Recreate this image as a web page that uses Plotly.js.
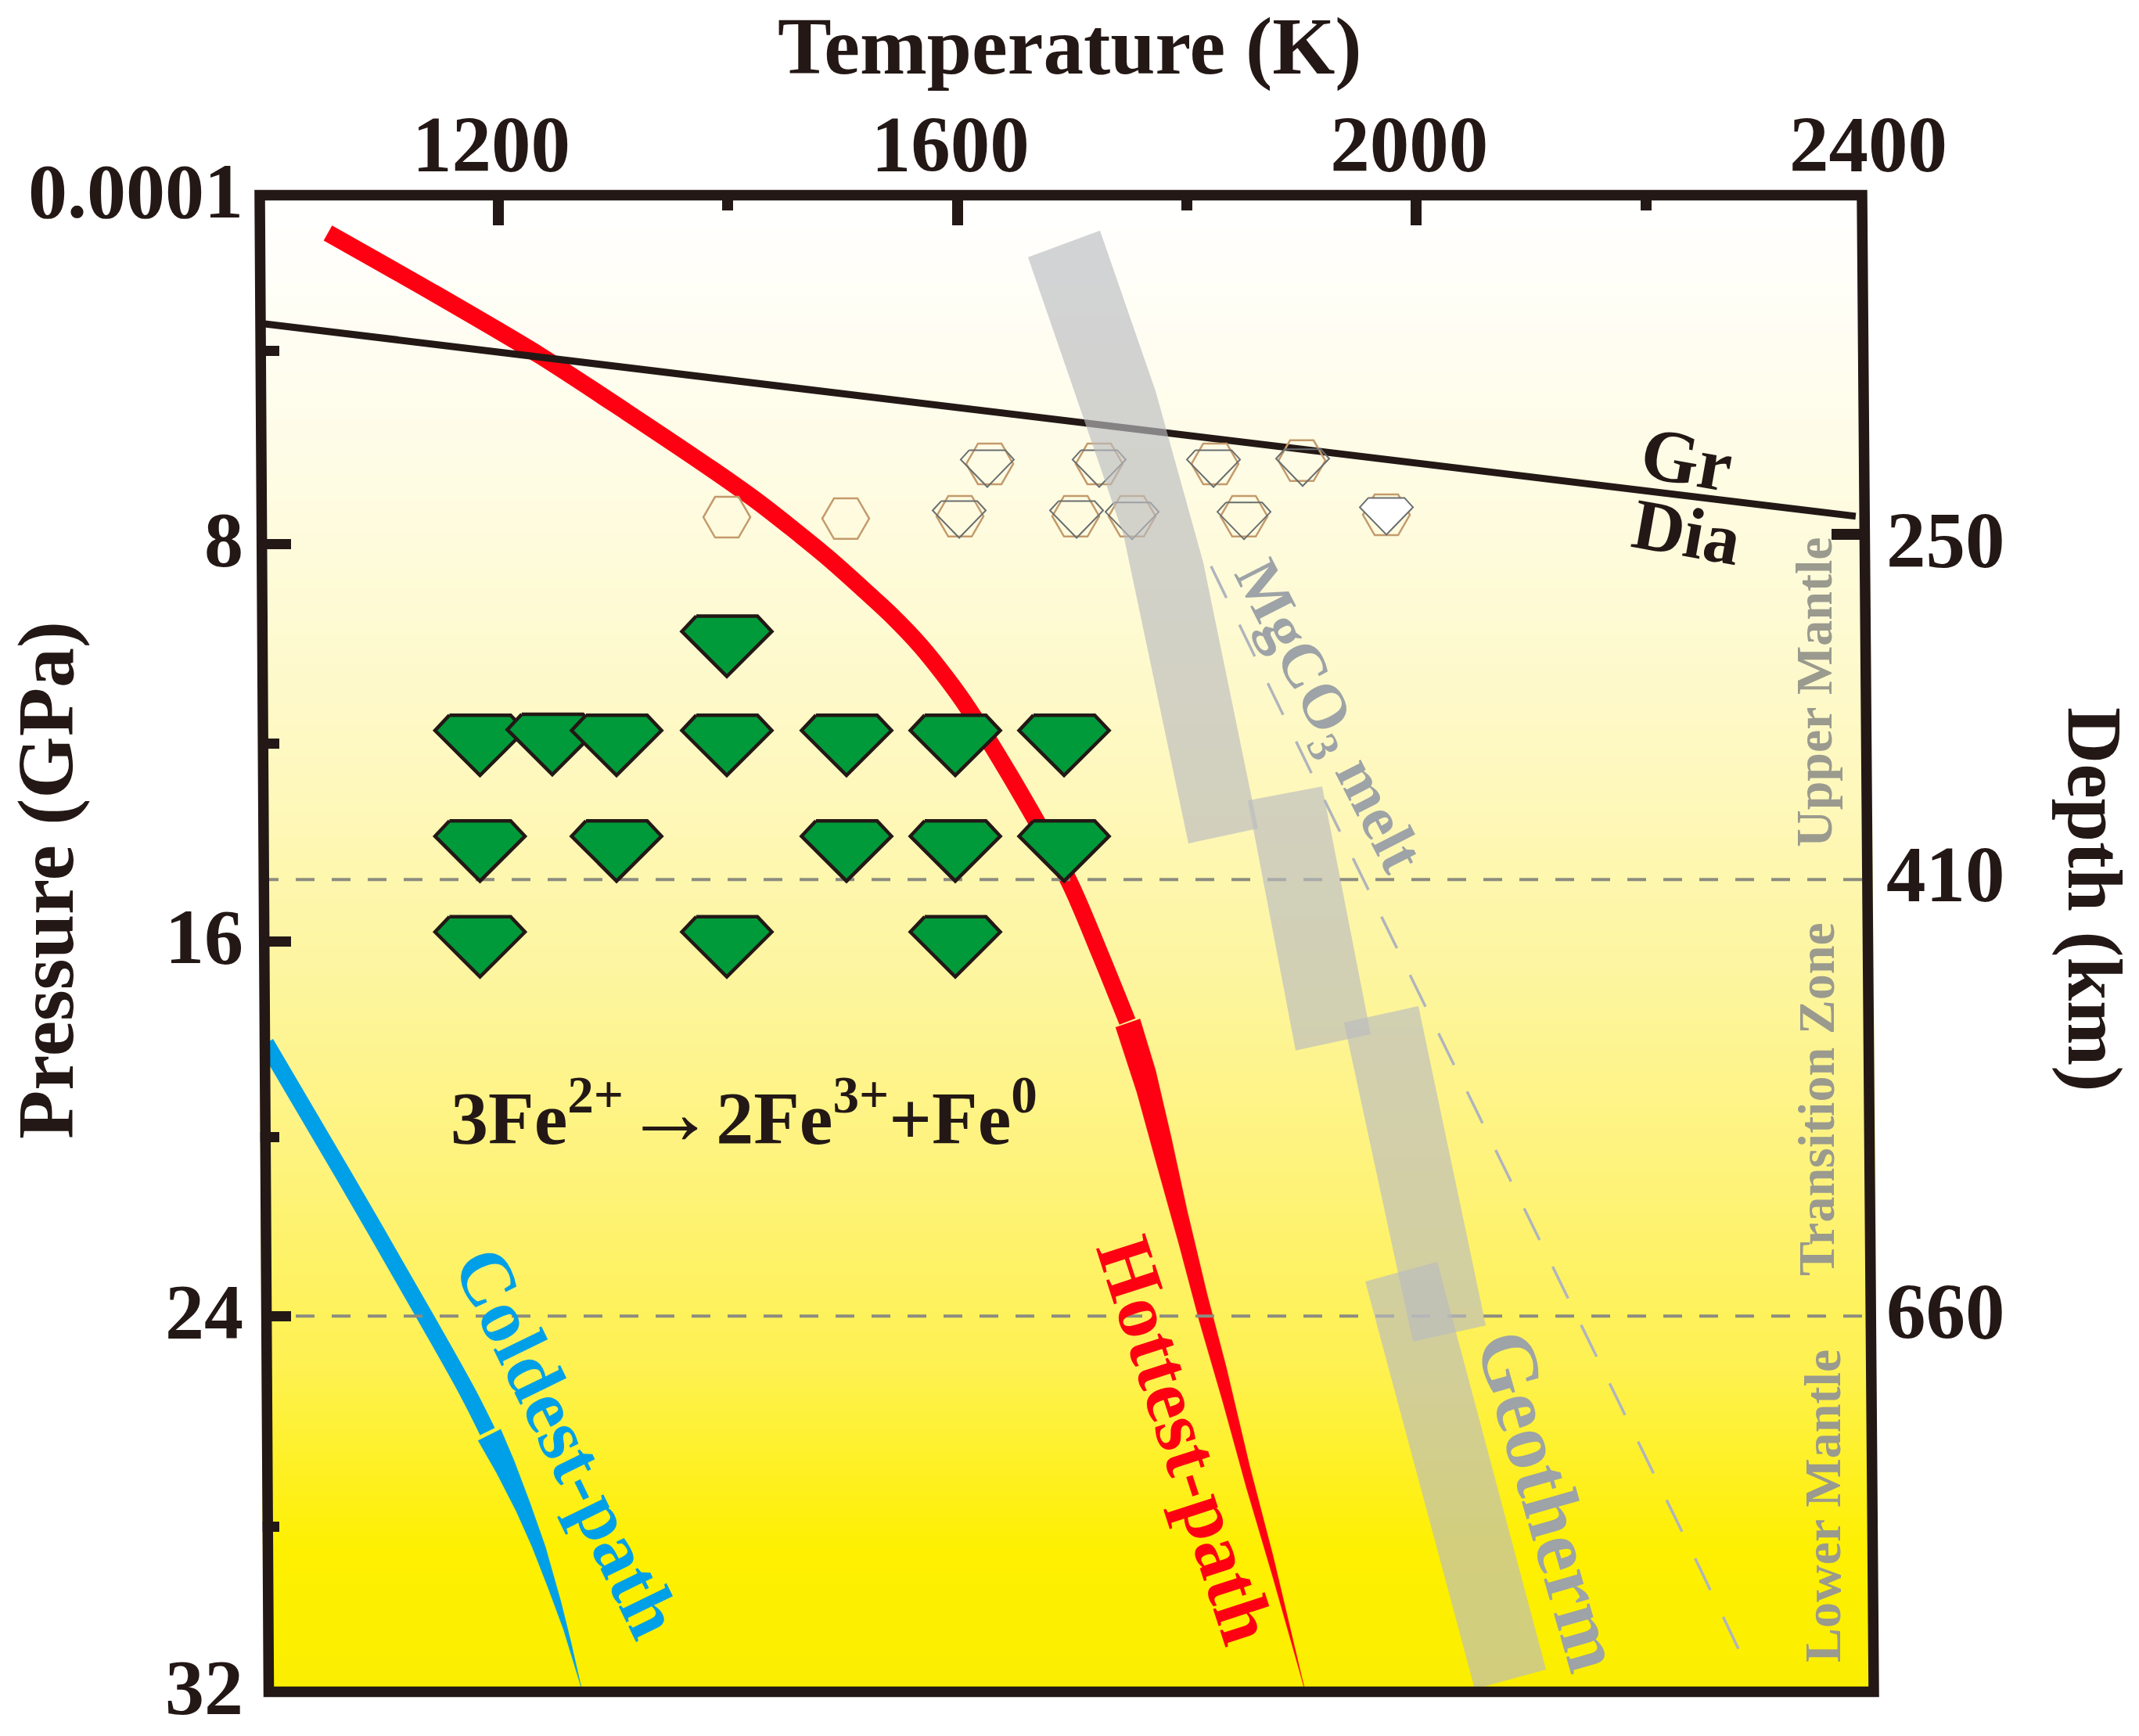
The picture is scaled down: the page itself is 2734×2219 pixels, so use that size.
<!DOCTYPE html>
<html><head><meta charset="utf-8">
<script src="https://cdn.plot.ly/plotly-3.0.1.min.js"></script>
<style>html,body{margin:0;padding:0;background:#fff}</style></head>
<body><div id="chart"></div>
<script>
// ---- axis ticks ----
const tempTicks=[1200,1600,2000,2400];
const tempMinor=[1400,1800,2200];
const pressTickPos=[0,7.45,15.95,23.97,32];
const pressTickText=['0.0001','8','16','24','32'];
const pressMinorPos=[3.33,11.72,20.15,28.48];
const depthTickPos=[7.36,14.5,23.86];
const depthTickText=['250','410','660'];
const depthMarkPos=[7.24];
const discontinuityP=[14.63,23.97];
// ---- Gr / Dia boundary ----
const grDiaT=[992.05,2382.9];
const grDiaP=[2.73,6.86];
// ---- hottest path ----
const hotT=[1051.4,1144.1,1235.5,1311.1,1388.2,1425,1456.4,1486.4,1515.7,1543,1568.2,1590.7,1609.1,1645.2,1697.7,1724.3,1748.2];
const hotP=[0.80,2.09,3.41,4.62,5.89,6.53,7.13,7.73,8.37,8.99,9.64,10.33,10.96,12.38,14.69,16.22,17.67];
const hotHeadT=[1737.95,1756.4,1774.8,1793.2,1810.9,1831.4,1851.8,1875,1902.3,1875,1854.5,1834.1,1817.7,1800,1786.4,1772.7,1759.1];
const hotHeadP=[17.79,19.18,20.82,22.44,24.08,25.81,27.63,29.56,31.92,29.09,27.16,25.04,23.51,21.69,20.15,18.71,17.61];
// ---- coldest path ----
const coldT=[997.5,1064.3,1137.3,1173.4,1190.5];
const coldP=[18.13,20.92,24.03,25.61,26.44];
const coldHeadT=[1182.3,1198.6,1215.7,1229.3,1243,1256.6,1272.3,1263.4,1254.5,1240.9,1227.3,1213.6,1202];
const coldHeadP=[26.63,27.33,28.15,28.90,29.76,30.66,31.92,30.96,30.08,28.90,27.95,27.06,26.39];
// ---- geotherm segments ----
const geo1T=[1661.6,1724.3,1772.7,1814.3,1862,1801.4,1744.8,1701.8];
const geo1P=[1.32,0.75,4.18,7.85,13.54,13.86,7.26,4.18];
const geo2T=[1853.2,1917.9,1960.2,1894.8];
const geo2P=[12.94,12.64,17.94,18.29];
const geo3T=[1937,2001.8,2060.5,1997];
const geo3P=[17.69,17.34,24.17,24.52];
const geo4T=[1955.5,2018.2,2113,2050.9];
const geo4P=[23.23,22.81,31.53,31.95];
// ---- MgCO3 melt ----
const meltT=[1821.1,1870.9,1920.7,1971.1,2021.6,2122.5,2246.6,2284.8];
const meltP=[7.93,10.46,12.97,15.50,18.03,23.10,29.34,31.30];
// ---- experiments: graphite hexagons ----
const hexT=[1399.1,1502.7,1628.2,1723.6,1824.5,1900.2,1602.3,1703.2,1752.3,1849.8,1973.9];
const hexP=[6.88,6.91,5.74,5.74,5.74,5.67,6.86,6.86,6.86,6.86,6.83];
// ---- experiments: outlined diamonds ----
const outT=[1626.1,1723.6,1823.2,1900.9,1601.6,1703.9,1752.3,1849.8,1973.9];
const outP=[5.84,5.84,5.84,5.82,6.93,6.93,6.96,6.96,6.86];
// ---- experiments: green diamonds ----
const gemT=[1399.1,1184,1247,1303,1399.1,1503.4,1598.2,1693,1184,1303,1503.4,1598.2,1693,1184,1399.1,1598.2];
const gemP=[9.64,11.76,11.74,11.76,11.76,11.76,11.76,11.76,14.02,14.02,14.02,14.02,14.02,16.07,16.07,16.07];

// ---- layout geometry ----
const W=2734,H=2219,L=332,R=2398,T0=250,B=2162;
const xRange=[992.05,2400.68],yRange=[32,0];
const kx=(R-L)/(xRange[1]-xRange[0]),ky=(B-T0)/32;
const px=x=>(x-L)/(R-L), py=y=>(B-y)/(B-T0);
const INK='#231815',SERIF='Liberation Serif';

function gemPath(cx,cy,w,h){
  const dx=v=>v*w/kx, dy=v=>v*h/ky;
  return {x:[cx+dx(-.34),cx+dx(.34),cx+dx(.5),cx,cx+dx(-.5),cx+dx(-.34)],
          y:[cy+dy(-.5),cy+dy(-.5),cy+dy(-.245),cy+dy(.5),cy+dy(-.245),cy+dy(-.5)]};
}
const traces=[];
traces.push({type:'heatmap',x:[xRange[0],xRange[1]],y:[0,32],z:[[0,0],[1,1]],zmin:0,zmax:1,zsmooth:'best',showscale:false,hoverinfo:'skip',
 colorscale:[[0,'#FFFFFF'],[.05,'#FFFEF9'],[.235,'#FEFBDC'],[.392,'#FEF8BD'],[.523,'#FDF59E'],[.654,'#FEF37A'],[.785,'#FEF150'],[.905,'#FEF000'],[1,'#FBEE00']]});
traces.push({x:hotT,y:hotP,mode:'lines',line:{color:'#FF0012',width:22,shape:'spline',smoothing:.8}});
traces.push({x:hotHeadT,y:hotHeadP,mode:'lines',fill:'toself',fillcolor:'#FF0012',line:{color:'#FF0012',width:.5}});
traces.push({x:coldT,y:coldP,mode:'lines',line:{color:'#00A0E9',width:21,shape:'spline',smoothing:1}});
traces.push({x:coldHeadT,y:coldHeadP,mode:'lines',fill:'toself',fillcolor:'#00A0E9',line:{color:'#00A0E9',width:.5}});
traces.push({x:[xRange[0],xRange[1]],y:[discontinuityP[0],discontinuityP[0]],mode:'lines',line:{color:'#8C8C80',width:4,dash:'24px,22px'}});
traces.push({x:[xRange[0],xRange[1]],y:[discontinuityP[1],discontinuityP[1]],mode:'lines',line:{color:'#8C8C80',width:4,dash:'24px,22px'}});
traces.push({x:grDiaT,y:grDiaP,mode:'lines',line:{color:INK,width:9}});
traces.push({x:meltT,y:meltP,mode:'lines',line:{color:'#B0B4BE',width:3.5,dash:'45px,38px'}});
gemT.forEach((t,i)=>{const g=gemPath(t,gemP[i],115,77);
  traces.push({x:g.x,y:g.y,mode:'lines',fill:'toself',fillcolor:'#009A3A',line:{color:INK,width:4.5}});});
traces.push({x:hexT,y:hexP,mode:'markers',marker:{symbol:'hexagon2-open',size:60,color:'#C49A6C',line:{width:2.5,color:'#C49A6C'}}});
outT.forEach((t,i)=>{const g=gemPath(t,outP[i],68,47);
  const white=i===outT.length-1;
  traces.push({x:g.x,y:g.y,mode:'lines',fill:white?'toself':'none',fillcolor:'#FFFFFF',line:{color:'#6A6E70',width:2}});});
[[geo1T,geo1P],[geo2T,geo2P],[geo3T,geo3P],[geo4T,geo4P]].forEach(s=>{
  traces.push({x:s[0],y:s[1],mode:'lines',fill:'toself',fillcolor:'rgba(186,188,192,0.65)',line:{width:0}});});
// depth axis carrier
traces.push({x:[xRange[0]],y:[0],yaxis:'y2',mode:'markers',marker:{opacity:0},showlegend:false});

const tickFont={family:SERIF,size:100,color:INK,weight:700};
function ann(text,x,y,size,color,angle){
  return {text,x:px(x),y:py(y),xref:'paper',yref:'paper',showarrow:false,xanchor:'center',yanchor:'middle',
    textangle:angle||0,font:{family:SERIF,size,color,weight:700}};
}
const GRAY='#9DA3A6',MANT='#9A9A8E';
const annotations=[
 ann('Temperature (K)',1367,60,103,INK),
 ann('Pressure (GPa)',58,1125,102,INK,-90),
 ann('Depth (km)',2678,1150,100,INK,90),
 ann('3Fe<sup>2+</sup><span style="font-size:118px">→</span>2Fe<sup>3+</sup>+Fe<sup>0</sup>',951,1422,96,INK),
 ann('Coldest-path',725,1843,98,'#00A0E9',64),
 ann('Hottest-path',1516,1840,100,'#FF0012',72),
 ann('Geotherm',1981,1918,103,GRAY,74),
 ann('MgCO<sub>3</sub> melt',1694,917,80,GRAY,63),
 ann('Gr',2156,587,95,INK,10),
 ann('Dia',2156,680,92,INK,10),
 ann('Upper Mantle',2318,885,66,MANT,-90),
 ann('Transition Zone',2321,1405,66,MANT,-90),
 ann('Lower Mantle',2329,1925,66,MANT,-90)
];
const poly=(pts,extra)=>Object.assign({type:'path',xref:'paper',yref:'paper',layer:'above',
  path:'M'+pts.map(p=>px(p[0])+','+py(p[1])).join('L')+'Z'},extra);
const shapes=[
 poly([[320,1250],[331.5,1250],[337,2172],[320,2172]],{fillcolor:'#FFFFFF',line:{width:0}}),
 poly([[2386,243],[2408,243],[2408,300],[2399,300],[2399,1700]],{fillcolor:'#FFFFFF',line:{width:0}}),
 poly([[332,249.5],[2380,249.5],[2395,2162.5],[343.5,2162.5]],{line:{color:INK,width:13.5}})
];
const layout={
 width:W,height:H,showlegend:false,hovermode:false,
 paper_bgcolor:'#FFFFFF',plot_bgcolor:'#FFFFFF',
 margin:{l:L,r:W-R,t:T0,b:H-B,pad:0},
 xaxis:{range:xRange,side:'top',anchor:'y',showgrid:false,zeroline:false,showline:false,
  tickmode:'array',tickvals:tempTicks,ticktext:tempTicks.map(String),ticks:'inside',ticklen:38,tickwidth:14,tickcolor:INK,
  ticklabelstandoff:10,ticklabelshift:-9,ticklabeloverflow:'allow',tickfont:{family:SERIF,size:101,color:INK,weight:700},
  minor:{tickmode:'array',tickvals:tempMinor,ticks:'inside',ticklen:19,tickwidth:14,tickcolor:INK,showgrid:false}},
 yaxis:{range:yRange,anchor:'x',showgrid:false,zeroline:false,showline:false,
  tickmode:'array',tickvals:pressTickPos,ticktext:pressTickText,ticks:'inside',ticklen:40,tickwidth:13,tickcolor:INK,
  ticklabelstandoff:20,ticklabelshift:7,ticklabeloverflow:'allow',tickfont:tickFont,
  minor:{tickmode:'array',tickvals:pressMinorPos,ticks:'inside',ticklen:25,tickwidth:13,tickcolor:INK,showgrid:false}},
 yaxis2:{range:yRange,overlaying:'y',side:'right',anchor:'x',showgrid:false,zeroline:false,showline:false,
  tickmode:'array',tickvals:depthTickPos,ticktext:depthTickText,ticks:'',tickfont:{family:SERIF,size:101,color:INK,weight:700},ticklabelstandoff:12,ticklabeloverflow:'allow',
  minor:{tickmode:'array',tickvals:depthMarkPos,ticks:'inside',ticklen:57,tickwidth:14,tickcolor:INK,showgrid:false}},
 annotations,shapes
};
traces.forEach(t=>{t.hoverinfo='skip';t.showlegend=false;if(!t.type)t.type='scatter';});
Plotly.newPlot('chart',traces,layout,{displayModeBar:false,staticPlot:true});
</script></body></html>
